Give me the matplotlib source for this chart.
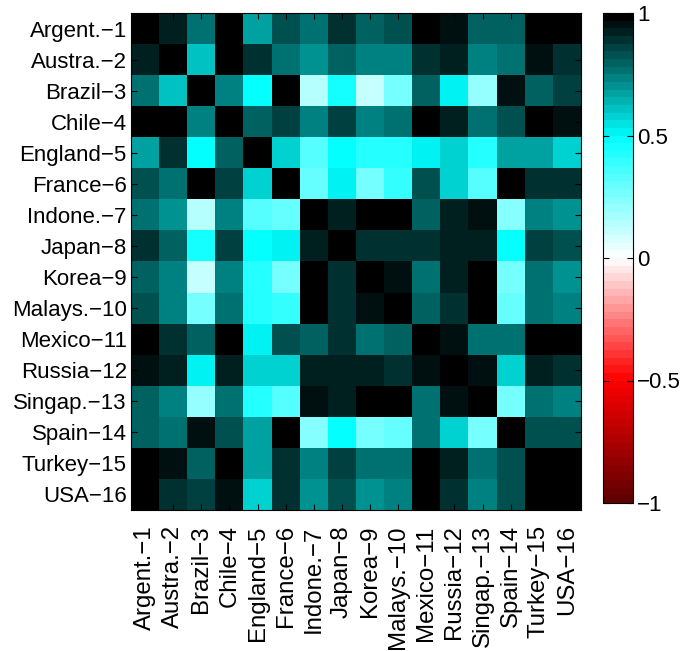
import matplotlib
matplotlib.use("Agg")
import matplotlib.pyplot as plt
import numpy as np
from matplotlib.colors import LinearSegmentedColormap

plt.rcParams["font.family"] = ["Liberation Sans", "DejaVu Sans"]

countries = ["Argent.−1", "Austra.−2", "Brazil−3", "Chile−4", "England−5", "France−6",
             "Indone.−7", "Japan−8", "Korea−9", "Malays.−10", "Mexico−11", "Russia−12",
             "Singap.−13", "Spain−14", "Turkey−15", "USA−16"]

# correlation matrix
corr = [
    [1.00, 0.93, 0.76, 1.00, 0.66, 0.84, 0.76, 0.88, 0.81, 0.82, 1.00, 0.94, 0.81, 0.81, 1.00, 1.00],
    [0.93, 1.00, 0.62, 0.97, 0.89, 0.78, 0.69, 0.80, 0.72, 0.72, 0.88, 0.91, 0.72, 0.78, 0.96, 0.90],
    [0.76, 0.62, 1.00, 0.74, 0.47, 1.00, 0.155, 0.45, 0.12, 0.25, 0.79, 0.50, 0.19, 0.94, 0.79, 0.86],
    [1.00, 0.97, 0.74, 1.00, 0.80, 0.85, 0.73, 0.86, 0.73, 0.76, 0.97, 0.91, 0.76, 0.82, 1.00, 0.96],
    [0.66, 0.89, 0.47, 0.80, 1.00, 0.59, 0.34, 0.47, 0.42, 0.43, 0.53, 0.59, 0.41, 0.68, 0.68, 0.59],
    [0.84, 0.78, 1.00, 0.85, 0.59, 1.00, 0.30, 0.53, 0.25, 0.38, 0.84, 0.59, 0.34, 0.97, 0.88, 0.90],
    [0.76, 0.69, 0.155, 0.73, 0.34, 0.30, 1.00, 0.91, 0.97, 0.97, 0.80, 0.91, 0.96, 0.22, 0.72, 0.69],
    [0.88, 0.80, 0.45, 0.86, 0.47, 0.53, 0.91, 1.00, 0.90, 0.88, 0.88, 0.91, 0.91, 0.47, 0.85, 0.82],
    [0.81, 0.72, 0.12, 0.73, 0.42, 0.25, 0.97, 0.90, 1.00, 0.94, 0.78, 0.91, 1.00, 0.25, 0.75, 0.69],
    [0.82, 0.72, 0.25, 0.76, 0.43, 0.38, 0.97, 0.88, 0.94, 1.00, 0.81, 0.90, 1.00, 0.30, 0.78, 0.72],
    [1.00, 0.88, 0.79, 0.97, 0.53, 0.84, 0.80, 0.88, 0.78, 0.81, 1.00, 0.94, 0.78, 0.78, 1.00, 1.00],
    [0.94, 0.91, 0.50, 0.91, 0.59, 0.59, 0.91, 0.91, 0.91, 0.90, 0.94, 1.00, 0.95, 0.59, 0.91, 0.88],
    [0.81, 0.72, 0.19, 0.76, 0.41, 0.34, 0.96, 0.91, 1.00, 1.00, 0.78, 0.95, 1.00, 0.25, 0.78, 0.72],
    [0.81, 0.78, 0.94, 0.82, 0.68, 0.97, 0.22, 0.47, 0.25, 0.30, 0.78, 0.59, 0.25, 1.00, 0.84, 0.84],
    [1.00, 0.96, 0.79, 1.00, 0.68, 0.88, 0.72, 0.85, 0.75, 0.78, 1.00, 0.91, 0.78, 0.84, 1.00, 0.97],
    [1.00, 0.90, 0.86, 0.96, 0.59, 0.90, 0.69, 0.82, 0.69, 0.72, 1.00, 0.88, 0.72, 0.84, 0.97, 1.00],
]

cbar_ticks = [-1, -0.5, 0, 0.5, 1]

cmap = LinearSegmentedColormap.from_list(
    "redcyan",
    [(0.0, (0.38, 0, 0)), (0.25, (1, 0, 0)), (0.5, (1, 1, 1)),
     (0.75, (0, 1, 1)), (1.0, (0, 0, 0))],
    N=64,
)

fig = plt.figure(figsize=(6.84, 6.51), dpi=100)
ax = fig.add_axes([131 / 684, 1 - 510 / 651, 450 / 684, 497 / 651])
im = ax.imshow(np.array(corr), cmap=cmap, vmin=-1, vmax=1, aspect="auto",
               interpolation="nearest")

n = len(countries)
ax.set_xticks(range(n))
ax.set_yticks(range(n))
ax.set_xticklabels(countries, rotation=90, fontsize=17.3)
ax.set_yticklabels(countries, fontsize=16)
ax.tick_params(direction="in", length=4, width=0.8, top=True, right=True, pad=3)
ax.tick_params(axis="x", pad=11)
for sp in ax.spines.values():
    sp.set_linewidth(0.8)

cax = fig.add_axes([603 / 684, 1 - 503 / 651, 30 / 684, 490 / 651])
cb = fig.colorbar(im, cax=cax, ticks=cbar_ticks)
cb.ax.set_yticklabels(["−1", "−0.5", "0", "0.5", "1"], fontsize=16)
cb.ax.tick_params(direction="in", length=4, width=0.8, left=True, right=True, pad=3)
cb.outline.set_linewidth(0.8)

fig.savefig("out.png", dpi=100)
